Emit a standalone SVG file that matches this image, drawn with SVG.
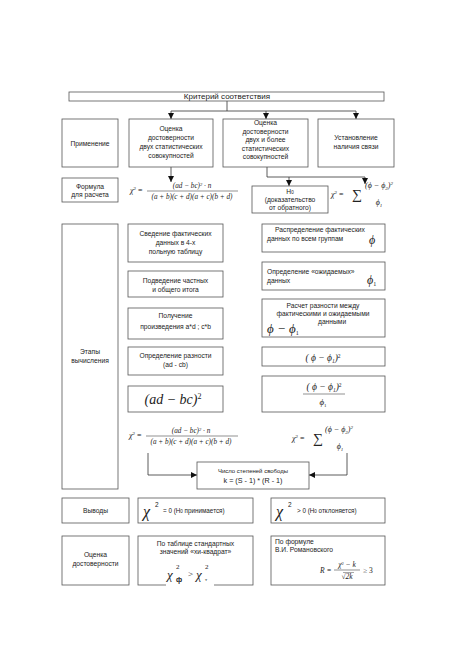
<svg xmlns="http://www.w3.org/2000/svg" width="459" height="650" viewBox="0 0 459 650">
<defs>
<marker id="arr" viewBox="0 0 10 10" refX="10" refY="5" markerWidth="7" markerHeight="6" orient="auto" markerUnits="userSpaceOnUse">
<path d="M0,0 L10,5 L0,10 Z" fill="#111"/>
</marker>
<style>
.b{fill:#fff;stroke:#555;stroke-width:0.8}
.t{font-family:"Liberation Sans",Arial,sans-serif;font-size:6.7px;fill:#222;text-anchor:middle}
.tl{font-family:"Liberation Sans",Arial,sans-serif;font-size:6.7px;fill:#222}
.m{font-family:"Liberation Serif","Times New Roman",serif;font-style:italic;fill:#222}
.c{fill:none;stroke:#333;stroke-width:0.8}
</style>
</defs>
<rect width="459" height="650" fill="#fff"/>

<g id="connectors">
<path class="c" d="M227,101 V111 M171,111 H356"/>
<path class="c" d="M171,111 V119" marker-end="url(#arr)"/>
<path class="c" d="M266,111 V119" marker-end="url(#arr)"/>
<path class="c" d="M356,111 V119" marker-end="url(#arr)"/>
<path class="c" d="M171,167 V182" marker-end="url(#arr)"/>
<path class="c" d="M267,167 V177 H365"/>
<path class="c" d="M289,177 V186" marker-end="url(#arr)"/>
<path class="c" d="M365,177 V184" marker-end="url(#arr)"/>
<path class="c" d="M148,453 V475 H197" marker-end="url(#arr)"/>
<path class="c" d="M347,453 V475 H309" marker-end="url(#arr)"/>
</g>

<g id="title">
<rect class="b" x="69" y="92" width="315" height="9"/>
<text class="t" x="227" y="99.3" style="font-size:8px">Критерий соответствия</text>
</g>

<g id="primenenie">
<rect class="b" x="62" y="119" width="56" height="48"/>
<text class="t" x="90" y="145.5">Применение</text>
</g>
<g id="ocenka2">
<rect class="b" x="129" y="119" width="84" height="48"/>
<text class="t" x="171" y="131">Оценка</text>
<text class="t" x="171" y="140">достоверности</text>
<text class="t" x="171" y="149">двух статистических</text>
<text class="t" x="171" y="158">совокупностей</text>
</g>
<g id="ocenka3">
<rect class="b" x="223" y="119" width="85" height="48"/>
<text class="t" x="265.5" y="125">Оценка</text>
<text class="t" x="265.5" y="133.5">достоверности</text>
<text class="t" x="265.5" y="142">двух и более</text>
<text class="t" x="265.5" y="150.5">статистических</text>
<text class="t" x="265.5" y="159">совокупностей</text>
</g>
<g id="svyaz">
<rect class="b" x="318" y="119" width="76" height="48"/>
<text class="t" x="356" y="140">Установление</text>
<text class="t" x="356" y="149">наличия связи</text>
</g>

<g id="formula">
<rect class="b" x="62" y="178" width="56" height="24"/>
<text class="t" x="90" y="188.5">Формула</text>
<text class="t" x="90" y="197">для расчета</text>
</g>
<g id="formula-left">
<text class="m" x="130" y="193" style="font-size:8px">χ<tspan dy="-3" style="font-size:5px;font-style:normal">2</tspan><tspan dy="3" style="font-style:normal"> =</tspan></text>
<text class="m" x="192" y="188" text-anchor="middle" style="font-size:7.2px">(ad − bc)<tspan dy="-2.5" style="font-size:4.5px">2</tspan><tspan dy="2.5"> · n</tspan></text>
<line x1="147" y1="191" x2="238" y2="191" stroke="#222" stroke-width="0.5"/>
<text class="m" x="192" y="199" text-anchor="middle" style="font-size:7.2px">(a + b)(c + d)(a + c)(b + d)</text>
</g>
<g id="h0">
<rect class="b" x="252" y="186" width="76" height="27"/>
<text class="t" x="290" y="193.5">Н<tspan style="font-size:4.5px">0</tspan></text>
<text class="t" x="290" y="202">(доказательство</text>
<text class="t" x="290" y="210">от обратного)</text>
</g>
<g id="formula-right">
<text class="m" x="331" y="197" style="font-size:8px">χ<tspan dy="-3" style="font-size:5px;font-style:normal">2</tspan><tspan dy="3" style="font-style:normal"> =</tspan></text>
<text x="352" y="199" style="font-family:'Liberation Serif',serif;font-size:14px;fill:#222">∑</text>
<text class="m" x="379" y="188" text-anchor="middle" style="font-size:8px">(ϕ − ϕ<tspan dy="1.5" style="font-size:5px">2</tspan><tspan dy="-1.5">)</tspan><tspan dy="-3" style="font-size:5px">2</tspan></text>
<text class="m" x="379" y="205" text-anchor="middle" style="font-size:8px">ϕ<tspan dy="1.5" style="font-size:5px">1</tspan></text>
</g>

<g id="etapy">
<rect class="b" x="62" y="224" width="56" height="265"/>
<text class="t" x="90" y="354">Этапы</text>
<text class="t" x="90" y="362.5">вычисления</text>
</g>

<g id="l1">
<rect class="b" x="128" y="224" width="95" height="38"/>
<text class="t" x="175.5" y="236">Сведение фактических</text>
<text class="t" x="175.5" y="245">данных в 4-х</text>
<text class="t" x="175.5" y="254">польную таблицу</text>
</g>
<g id="l2">
<rect class="b" x="128" y="271" width="95" height="26"/>
<text class="t" x="175.5" y="283">Подведение частных</text>
<text class="t" x="175.5" y="292">и общего итога</text>
</g>
<g id="l3">
<rect class="b" x="128" y="308" width="95" height="31"/>
<text class="t" x="175.5" y="318">Получение</text>
<text class="t" x="175.5" y="329">произведения a*d ; c*b</text>
</g>
<g id="l4">
<rect class="b" x="128" y="347" width="95" height="28"/>
<text class="t" x="175.5" y="358">Определение разности</text>
<text class="t" x="175.5" y="367">(ad - cb)</text>
</g>
<g id="l5">
<rect class="b" x="128" y="386" width="95" height="26"/>
<text class="m" x="173" y="404" text-anchor="middle" style="font-size:14px">(ad − bc)<tspan dy="-5" style="font-size:8px;font-style:normal">2</tspan></text>
</g>

<g id="r1">
<rect class="b" x="262" y="224" width="123" height="28"/>
<text class="t" x="320" y="232">Распределение фактических</text>
<text class="tl" x="267" y="241">данных по всем группам</text>
<text class="m" x="369" y="244" style="font-size:12px">ϕ</text>
</g>
<g id="r2">
<rect class="b" x="262" y="262" width="123" height="28"/>
<text class="tl" x="267" y="274">Определение «ожидаемых»</text>
<text class="tl" x="267" y="283">данных</text>
<text class="m" x="367" y="284" style="font-size:12px">ϕ<tspan dy="2" style="font-size:6px;font-style:normal">1</tspan></text>
</g>
<g id="r3">
<rect class="b" x="262" y="299" width="123" height="38"/>
<text class="t" x="323" y="307.5">Расчет разности между</text>
<text class="t" x="323" y="316">фактическими и ожидаемыми</text>
<text class="tl" x="318" y="324">данными</text>
<text class="m" x="267" y="333" style="font-size:13px">ϕ − ϕ<tspan dy="2" style="font-size:6px;font-style:normal">1</tspan></text>
</g>
<g id="r4">
<rect class="b" x="262" y="347" width="123" height="19"/>
<text class="m" x="323" y="361" text-anchor="middle" style="font-size:9.5px">( ϕ − ϕ<tspan dy="1.5" style="font-size:5.5px">1</tspan><tspan dy="-1.5">)</tspan><tspan dy="-3.5" style="font-size:5.5px;font-style:normal">2</tspan></text>
</g>
<g id="r5">
<rect class="b" x="262" y="376" width="123" height="36"/>
<text class="m" x="324" y="390" text-anchor="middle" style="font-size:9.5px">( ϕ − ϕ<tspan dy="1.5" style="font-size:5.5px">1</tspan><tspan dy="-1.5">)</tspan><tspan dy="-3.5" style="font-size:5.5px;font-style:normal">2</tspan></text>
<line x1="303" y1="394" x2="345" y2="394" stroke="#222" stroke-width="0.5"/>
<text class="m" x="323" y="405" text-anchor="middle" style="font-size:9px">ϕ<tspan dy="1.5" style="font-size:5px;font-style:normal">1</tspan></text>
</g>

<g id="formula-left-2">
<text class="m" x="129" y="438" style="font-size:8px">χ<tspan dy="-3" style="font-size:5px;font-style:normal">2</tspan><tspan dy="3" style="font-style:normal"> =</tspan></text>
<text class="m" x="191" y="433" text-anchor="middle" style="font-size:7.2px">(ad − bc)<tspan dy="-2.5" style="font-size:4.5px">2</tspan><tspan dy="2.5"> · n</tspan></text>
<line x1="146" y1="436" x2="238" y2="436" stroke="#222" stroke-width="0.5"/>
<text class="m" x="191" y="444" text-anchor="middle" style="font-size:7.2px">(a + b)(c + d)(a + c)(b + d)</text>
</g>
<g id="formula-right-2">
<text class="m" x="292" y="441" style="font-size:8px">χ<tspan dy="-3" style="font-size:5px;font-style:normal">2</tspan><tspan dy="3" style="font-style:normal"> =</tspan></text>
<text x="313" y="443" style="font-family:'Liberation Serif',serif;font-size:14px;fill:#222">∑</text>
<text class="m" x="339" y="432" text-anchor="middle" style="font-size:8px">(ϕ − ϕ<tspan dy="1.5" style="font-size:5px">2</tspan><tspan dy="-1.5">)</tspan><tspan dy="-3" style="font-size:5px">2</tspan></text>
<text class="m" x="340" y="449" text-anchor="middle" style="font-size:8px">ϕ<tspan dy="1.5" style="font-size:5px">1</tspan></text>
</g>

<g id="svoboda">
<rect class="b" x="197" y="462" width="112" height="27"/>
<text class="t" x="253" y="473" style="font-size:6px">Число степеней свободы</text>
<text class="t" x="253" y="483" style="font-size:7.2px">k = (S - 1) * (R - 1)</text>
</g>

<g id="vyvody">
<rect class="b" x="62" y="498" width="67" height="25"/>
<text class="t" x="95.5" y="513">Выводы</text>
</g>
<g id="v1">
<rect class="b" x="138" y="498" width="115" height="25"/>
<text class="m" x="143" y="517" style="font-size:16px">χ</text>
<text x="155" y="507" style="font-family:'Liberation Sans',sans-serif;font-size:6.5px;fill:#222">2</text>
<text class="tl" x="163" y="513" style="font-size:6.3px">= 0 (Н<tspan style="font-size:4.5px">0</tspan> принимается)</text>
</g>
<g id="v2">
<rect class="b" x="271" y="498" width="114" height="25"/>
<text class="m" x="276" y="517" style="font-size:16px">χ</text>
<text x="288" y="507" style="font-family:'Liberation Sans',sans-serif;font-size:6.5px;fill:#222">2</text>
<text class="tl" x="297" y="513" style="font-size:6.3px">&gt; 0 (Н<tspan style="font-size:4.5px">0</tspan> отклоняется)</text>
</g>

<g id="ocenka-dost">
<rect class="b" x="62" y="536" width="67" height="49"/>
<text class="t" x="95.5" y="557">Оценка</text>
<text class="t" x="95.5" y="566">достоверности</text>
</g>
<g id="tablica">
<rect class="b" x="138" y="536" width="115" height="49"/>
<text class="t" x="195.5" y="545.5">По таблице стандартных</text>
<text class="t" x="195.5" y="554">значений «хи-квадрат»</text>
<rect x="166" y="578" width="48" height="8" fill="#fff"/>
<text class="m" x="167" y="579" style="font-size:13px">χ</text>
<text x="176" y="569" style="font-family:'Liberation Serif',serif;font-size:7px;fill:#222">2</text>
<text x="176" y="582" style="font-family:'Liberation Sans',sans-serif;font-size:7px;font-weight:bold;fill:#222">ф</text>
<text x="188" y="577" style="font-family:'Liberation Serif',serif;font-size:9px;fill:#222">&gt;</text>
<text class="m" x="196" y="579" style="font-size:13px">χ</text>
<text x="205" y="569" style="font-family:'Liberation Serif',serif;font-size:7px;fill:#222">2</text>
<text x="205" y="581" style="font-family:'Liberation Serif',serif;font-size:5px;fill:#222">т</text>
</g>
<g id="romanovsky">
<rect class="b" x="271" y="536" width="114" height="49"/>
<text class="tl" x="275" y="544">По формуле</text>
<text class="tl" x="275" y="552">В.И. Романовского</text>
<text class="m" x="320" y="573" style="font-size:7.5px">R =</text>
<text class="m" x="347" y="567" text-anchor="middle" style="font-size:7.5px">χ<tspan dy="-2.5" style="font-size:4.5px;font-style:normal">2</tspan><tspan dy="2.5"> − k</tspan></text>
<line x1="334" y1="570" x2="360" y2="570" stroke="#222" stroke-width="0.5"/>
<text class="m" x="347" y="579" text-anchor="middle" style="font-size:7.5px"><tspan style="font-style:normal">√</tspan>2k</text>
<line x1="343" y1="572.5" x2="354" y2="572.5" stroke="#222" stroke-width="0.4"/>
<text x="363" y="573" style="font-family:'Liberation Serif',serif;font-size:7.5px;fill:#222">≥ 3</text>
</g>
</svg>
